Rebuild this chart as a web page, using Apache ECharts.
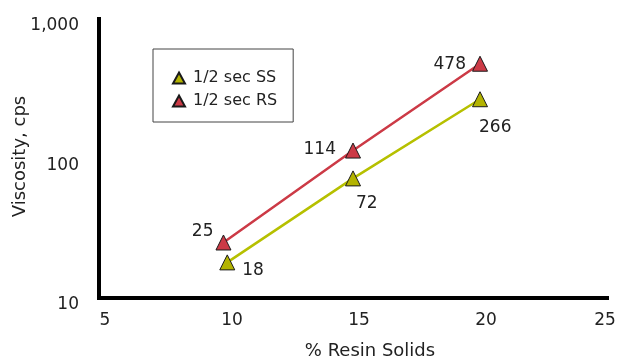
<!DOCTYPE html>
<html>
<head>
<meta charset="utf-8">
<script src="https://cdn.jsdelivr.net/npm/echarts@6/dist/echarts.min.js"></script>
<style>
  html, body { margin: 0; padding: 0; background: #ffffff; }
  #chart { width: 617px; height: 361px; }
</style>
</head>
<body>
<div id="chart"></div>
<script>
// Viscosity vs. resin solids for two cut grades
const seriesNames = ['1/2 sec SS', '1/2 sec RS'];
const resinSolidsSS = [10.05, 15, 20];
const viscositySS = [18, 72, 266];
const resinSolidsRS = [9.9, 15, 20];
const viscosityRS = [25, 114, 478];

const xTickMin = 5, xTickMax = 25, xTickStep = 5;
const yTickMin = 10, yTickMax = 1000;

// value-label anchors relative to each marker centre: [align, dx, dy]
const labelPlaceSS = [['left', 15, 8], ['left', 3, 25], ['left', -1, 28]];
const labelPlaceRS = [['right', -10, -11], ['right', -17, -1], ['right', -14, 1]];

const FONT = 'DejaVu Sans';
const TEXT = '#222222';

function points(xs, ys, places) {
  return xs.map((x, i) => ({
    value: [x, ys[i]],
    label: {
      show: true,
      position: ['50%', '50%'],
      align: places[i][0],
      verticalAlign: 'middle',
      offset: [places[i][1], places[i][2]],
      formatter: String(ys[i]),
      fontFamily: FONT,
      fontSize: 17,
      color: TEXT
    }
  }));
}

const chart = echarts.init(document.getElementById('chart'), null, { renderer: 'canvas' });

chart.setOption({
  animation: false,
  backgroundColor: '#ffffff',
  grid: {
    left: 99, right: 10, top: 19, bottom: 63,
    containLabel: false,
    outerBoundsMode: 'none'
  },
  legend: {
    orient: 'vertical',
    left: 153,
    top: 49,
    data: seriesNames,
    icon: 'triangle',
    itemWidth: 12,
    itemHeight: 11,
    itemGap: 7,
    padding: [21, 16, 13, 19],
    borderColor: '#444444',
    borderWidth: 1,
    textStyle: { fontFamily: FONT, fontSize: 16, color: TEXT, padding: [0, 0, 0, 3] }
  },
  xAxis: {
    type: 'value',
    min: xTickMin,
    max: xTickMax,
    interval: xTickStep,
    name: '% Resin Solids',
    nameLocation: 'middle',
    nameGap: 44,
    nameMoveOverlap: false,
    nameTextStyle: { fontFamily: FONT, fontSize: 18, color: TEXT, padding: [0, 0, 0, 34] },
    axisLine: { show: true, lineStyle: { color: '#000000', width: 4, cap: 'square' } },
    axisTick: { show: false },
    splitLine: { show: false },
    axisLabel: {
      fontFamily: FONT, fontSize: 17, color: TEXT, margin: 14,
      hideOverlap: false,
      // tick labels sit a little right of their ticks; the last one is kept inside the frame
      formatter: v => (v === xTickMax ? '{last|' + v + '}' : '{tick|' + v + '}'),
      rich: {
        tick: { fontFamily: FONT, fontSize: 17, color: TEXT, padding: [0, 0, 0, 12] },
        last: { fontFamily: FONT, fontSize: 17, color: TEXT, padding: [0, 4, 0, 0] }
      }
    }
  },
  yAxis: {
    type: 'log',
    logBase: 10,
    min: yTickMin,
    max: yTickMax,
    name: 'Viscosity, cps',
    nameLocation: 'middle',
    nameGap: 70,
    nameMoveOverlap: false,
    nameTextStyle: { fontFamily: FONT, fontSize: 18, color: TEXT, padding: [0, 0, 0, 4] },
    axisLine: { show: true, lineStyle: { color: '#000000', width: 4, cap: 'square' } },
    axisTick: { show: false },
    minorTick: { show: false },
    splitLine: { show: false },
    axisLabel: {
      fontFamily: FONT, fontSize: 17, color: TEXT, margin: 20,
      verticalAlign: 'top',
      lineHeight: 14,
      formatter: v => Math.round(v).toLocaleString('en-US')
    }
  },
  series: [
    {
      name: seriesNames[0],
      type: 'line',
      data: points(resinSolidsSS, viscositySS, labelPlaceSS),
      symbol: 'triangle',
      symbolSize: 15,
      lineStyle: { color: '#b6c000', width: 2.5 },
      itemStyle: { color: '#b3b300', borderColor: '#1a1a1a', borderWidth: 1 },
      z: 3
    },
    {
      name: seriesNames[1],
      type: 'line',
      data: points(resinSolidsRS, viscosityRS, labelPlaceRS),
      symbol: 'triangle',
      symbolSize: 15,
      lineStyle: { color: '#cc3a46', width: 2.5 },
      itemStyle: { color: '#cc3a46', borderColor: '#1a1a1a', borderWidth: 1 },
      z: 3
    }
  ]
});
</script>
</body>
</html>
